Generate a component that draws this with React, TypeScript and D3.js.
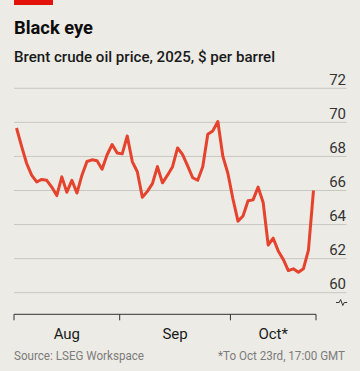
import React from "react";
import * as d3 from "d3";

const dates: string[] = [
  "2025-08-01","2025-08-04","2025-08-05","2025-08-06","2025-08-07","2025-08-08",
  "2025-08-11","2025-08-12","2025-08-13","2025-08-14","2025-08-15",
  "2025-08-18","2025-08-19","2025-08-20","2025-08-21","2025-08-22",
  "2025-08-25","2025-08-26","2025-08-27","2025-08-28","2025-08-29",
  "2025-09-01","2025-09-02","2025-09-03","2025-09-04","2025-09-05",
  "2025-09-08","2025-09-09","2025-09-10","2025-09-11","2025-09-12",
  "2025-09-15","2025-09-16","2025-09-17","2025-09-18","2025-09-19",
  "2025-09-22","2025-09-23","2025-09-24","2025-09-25","2025-09-26",
  "2025-09-29","2025-09-30",
  "2025-10-01","2025-10-02","2025-10-03",
  "2025-10-06","2025-10-07","2025-10-08","2025-10-09","2025-10-10",
  "2025-10-13","2025-10-14","2025-10-15","2025-10-16","2025-10-17",
  "2025-10-20","2025-10-21","2025-10-22","2025-10-23",
];

const prices: number[] = [
  69.67, 68.6, 67.6, 66.9, 66.5, 66.65, 66.6, 66.2, 65.7, 66.8,
  65.9, 66.6, 65.85, 66.9, 67.7, 67.8, 67.75, 67.25, 68.1, 68.7,
  68.2, 68.15, 69.2, 67.7, 67.1, 65.6, 65.95, 66.4, 67.4, 66.45,
  66.9, 67.4, 68.5, 68.1, 67.45, 66.75, 66.6, 67.4, 69.3, 69.5,
  70.05, 68.0, 67.0, 65.5, 64.2, 64.5, 65.4, 65.45, 66.2, 65.3,
  62.8, 63.2, 62.45, 61.95, 61.3, 61.4, 61.2, 61.4, 62.5, 66.0,
];

const yTicks: number[] = [60, 62, 64, 66, 68, 70, 72];
const monthLabels: string[] = ["Aug", "Sep", "Oct*"];

const title = "Black eye";
const subtitle = "Brent crude oil price, 2025, $ per barrel";
const source = "Source: LSEG Workspace";
const note = "*To Oct 23rd, 17:00 GMT";

export default function App() {
  const W = 360, H = 371;
  const x = d3.scalePoint<string>().domain(dates).range([14, 316]).padding(0.5);
  const y = d3.scaleLinear().domain([60, 72]).range([292.7, 88.3]);
  const step = x.step();

  const line = d3
    .line<number>()
    .x((_, i) => x(dates[i]) as number)
    .y((d) => y(d))
    .curve(d3.curveLinear);

  // month boundary ticks
  const tickXs: number[] = [];
  dates.forEach((d, i) => {
    if (i === 0 || d.slice(5, 7) !== dates[i - 1].slice(5, 7)) {
      tickXs.push((x(d) as number) - step / 2);
    }
  });
  const xEnd = x.range()[1];
  const allTicks = [...tickXs, xEnd];
  const axisY = 314.3;

  const font = "Roboto, 'Noto Sans', sans-serif";

  return (
    <svg
      width={W}
      height={H}
      viewBox={`0 0 ${W} ${H}`}
      style={{ position: "absolute", left: 0, top: 0, display: "block" }}
      fontFamily={font}
    >
      <rect x={0} y={0} width={W} height={H} fill="#ECEBE5" />
      <rect x={14} y={0} width={39} height={5} fill="#E3120B" />
      <text x={14} y={33.5} fontSize={18.5} fontWeight={700} fill="#0C0C0C" textLength={79} lengthAdjust="spacingAndGlyphs">
        {title}
      </text>
      <text x={14} y={62} fontSize={15} fontWeight={500} fill="#1A1A1A" textLength={261} lengthAdjust="spacingAndGlyphs">
        {subtitle}
      </text>

      {yTicks.map((t) => (
        <g key={t}>
          <line x1={14} x2={346.5} y1={y(t)} y2={y(t)} stroke="#C8C7C0" strokeWidth={1} />
          <text x={346} y={y(t) - 3.5} fontSize={15} textAnchor="end" fill="#333333">
            {t}
          </text>
        </g>
      ))}

      {/* axis break symbol */}
      <path
        d="M336,302.5 h3.2 l1.4,-3 l2.2,6 l1.4,-3 h3"
        fill="none"
        stroke="#333"
        strokeWidth={1}
      />

      <path
        d={line(prices) || ""}
        fill="none"
        stroke="#E5432D"
        strokeWidth={3}
        strokeLinejoin="round"
        strokeLinecap="butt"
      />

      <line x1={14} x2={xEnd} y1={axisY} y2={axisY} stroke="#333333" strokeWidth={1} />
      {allTicks.map((tx, i) => (
        <line key={i} x1={tx} x2={tx} y1={axisY} y2={axisY + 6} stroke="#333333" strokeWidth={1} />
      ))}
      {monthLabels.map((m, i) => (
        <text
          key={m}
          x={(allTicks[i] + allTicks[i + 1]) / 2}
          y={338.5}
          fontSize={15}
          textAnchor="middle"
          fill="#1A1A1A"
        >
          {m}
        </text>
      ))}

      <text x={14} y={360} fontSize={13} fill="#7C7C7C" textLength={130} lengthAdjust="spacingAndGlyphs">
        {source}
      </text>
      <text x={345} y={360} fontSize={13} fill="#7C7C7C" textAnchor="end" textLength={127} lengthAdjust="spacingAndGlyphs">
        {note}
      </text>
    </svg>
  );
}
